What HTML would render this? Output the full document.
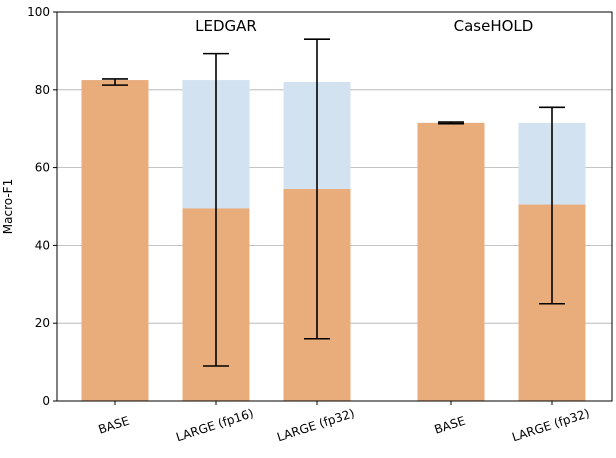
<!DOCTYPE html>
<html><head><meta charset="utf-8"><style>
body{margin:0;background:#fff;}
svg{display:block;font-family:"DejaVu Sans","Liberation Sans",sans-serif;}
</style></head><body>
<svg id="c" width="616" height="458" viewBox="0 0 616 458"></svg>
<script>
const categories=["BASE","LARGE (fp16)","LARGE (fp32)","BASE","LARGE (fp32)"];
const maxValues=[82.5,82.5,82,71.5,71.5];
const meanValues=[82.5,49.5,54.5,71.5,50.5];
const errLow=[81.2,9,16,71.3,25];
const errHigh=[82.8,89.3,93,71.7,75.5];
const yTicks=[0,20,40,60,80,100];
const groupTitles=["LEDGAR","CaseHOLD"];
const groupTitleIdx=[1,3.4];
const centers=[115,216,317,451,552];
const NS="http://www.w3.org/2000/svg";
const svg=document.getElementById('c');
const X0=57,X1=612,Y0=401,Y1=12;
const y=v=>Y0-(v/100)*(Y0-Y1);
const bw=67;
function mk(t,a,p){const e=document.createElementNS(NS,t);for(const k in a)e.setAttribute(k,a[k]);(p||svg).appendChild(e);return e;}
yTicks.forEach(t=>{if(t>0&&t<100){const g=mk('line',{x1:X0,x2:X1,y1:y(t),y2:y(t),stroke:'#b0b0b0','stroke-width':0.8});

}});
categories.forEach((c,i)=>{
 const cx=centers[i];
 const b=mk('rect',{x:cx-bw/2,y:y(maxValues[i]),width:bw,height:Y0-y(maxValues[i]),fill:'#d3e2f1'});
 
 
 const m=mk('rect',{x:cx-bw/2,y:y(meanValues[i]),width:bw,height:Y0-y(meanValues[i]),fill:'#e9ad7c'});
 
 
 const eg=mk('g',{stroke:'#000','stroke-width':1.6});
 
 
 mk('line',{x1:cx,x2:cx,y1:y(errLow[i]),y2:y(errHigh[i])},eg);
 mk('line',{x1:cx-13,x2:cx+13,y1:y(errLow[i]),y2:y(errLow[i])},eg);
 mk('line',{x1:cx-13,x2:cx+13,y1:y(errHigh[i]),y2:y(errHigh[i])},eg);
 mk('line',{x1:cx,x2:cx,y1:Y0,y2:Y0+4,stroke:'#000'});
 const tl=mk('text',{x:0,y:0,'font-size':12,'text-anchor':'middle',transform:`translate(${cx},${Y0+28}) rotate(-18)`});
 tl.textContent=c;
 
 
});
const fr=mk('rect',{x:X0,y:Y1,width:X1-X0,height:Y0-Y1,fill:'none',stroke:'#000','stroke-width':1});


yTicks.forEach(t=>{
 mk('line',{x1:X0-4,x2:X0,y1:y(t),y2:y(t),stroke:'#000'});
 const tx=mk('text',{x:X0-7,y:y(t)+4,'font-size':12,'text-anchor':'end'});
 tx.textContent=t;
 
 
});
const yl=mk('text',{x:0,y:0,'font-size':12,'text-anchor':'middle',transform:`translate(12,${(Y0+Y1)/2}) rotate(-90)`});
yl.textContent='Macro-F1';


groupTitles.forEach((g,i)=>{
 const cx=groupTitleIdx[i]<3?centers[1]+10:(centers[3]+centers[4])/2-8;
 const t=mk('text',{x:cx,y:31,'font-size':15,'text-anchor':'middle'});
 t.textContent=g;
 
 
});
</script>
</body></html>
